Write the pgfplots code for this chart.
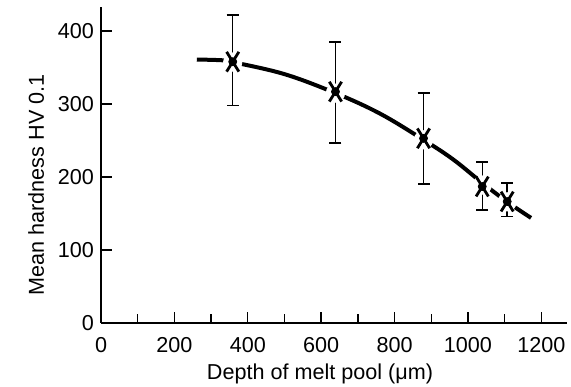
\documentclass[border=0pt]{standalone}
\usepackage{fontspec}
\setmainfont{Liberation Sans}
\usepackage{pgfplots}
\pgfplotsset{compat=1.18}
\begin{document}
\begin{tikzpicture}
\begin{axis}[
  scale only axis, width=233pt, height=158pt,
  xmin=0, xmax=1270, ymin=0, ymax=433,
  axis x line*=bottom, axis y line*=left,
  axis line style={line width=0.85pt},
  tick align=inside,
  xtick={0,200,...,1200}, minor x tick num=1,
  ytick={0,100,...,400},
  major tick length=5.5pt, minor tick length=4.3pt,
  tick style={black, line width=0.7pt},
  font=\fontsize{10.8}{13}\selectfont,
  /pgf/number format/assume math mode=true,
  /pgf/number format/set thousands separator={},
  xticklabel style={yshift=-3.5pt},
  xlabel={Depth of melt pool (μm)},
  ylabel={Mean hardness HV 0.1},
  xlabel style={at={(ticklabel cs:0.47)}, yshift=1pt},
  ylabel style={at={(ticklabel cs:0.437)}},
  clip=false,
]
\coordinate (tl) at (axis cs:-275.3,442.6);
\coordinate (br) at (axis cs:1280.9,-87.7);
% curve
\addplot[black, line width=2pt, smooth, tension=0.6] coordinates {
(261,361) (330,360) (359,357.5) (500,341) (639,315)
(760,287) (879,251) (960,224) (1039,192)
(1107,166) (1172,144)};
% white halos
\addplot[only marks, mark=*, mark size=4.6pt, color=white]
coordinates {(359,357.5) (639,315) (879,251) (1039,189) (1107,166)};
% error bars
\addplot[only marks, mark=none, black,
  error bars/.cd, y dir=both, y explicit,
  error bar style={line width=0.7pt},
  error mark options={rotate=90, mark size=3pt, line width=0.9pt}]
coordinates {
(359,358) += (0,64.5) -= (0,60)
(639,317) += (0,67.5) -= (0,70)
(879,253) += (0,62) -= (0,63)
(1039,187) += (0,34) -= (0,32)
(1107,166.4) += (0,25.3) -= (0,20.4)
};
% X markers
\addplot[only marks, mark=x, mark size=7pt, black,
  mark options={xscale=0.62, line width=1.4pt}]
coordinates {(359,358) (639,317) (879,253) (1039,187) (1107,166.4)};
\end{axis}
\pgfresetboundingbox
\path[use as bounding box] (tl) rectangle (br);
\end{tikzpicture}
\end{document}
